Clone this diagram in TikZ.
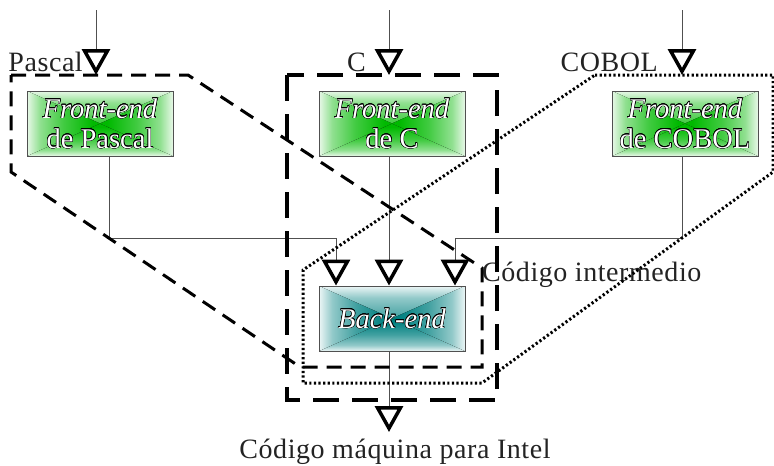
\documentclass[tikz,border=0pt]{standalone}
\usepackage{fontspec}
\setmainfont{Liberation Serif}
\newfontfamily\lblfont[LetterSpace=2]{Liberation Serif}
\usepackage{contour}
\contourlength{0.45pt}
\usetikzlibrary{arrows.meta}

\definecolor{feGreen}{RGB}{0,185,0}
\definecolor{feEdge}{RGB}{232,248,232}
\definecolor{beTeal}{RGB}{0,128,128}
\definecolor{beEdge}{RGB}{236,246,246}
\definecolor{wire}{RGB}{80,80,80}
\definecolor{ink}{RGB}{35,35,35}

% gradients from the centre (25bp) to the edge (75bp) of a stage
\pgfdeclareverticalshading{stageGreen}{100bp}{%
  color(0bp)=(feGreen); color(30bp)=(feGreen);
  color(50bp)=(feGreen!72!feEdge); color(66bp)=(feGreen!38!feEdge);
  color(75bp)=(feEdge); color(100bp)=(feEdge)}
\pgfdeclareverticalshading{stageTeal}{100bp}{%
  color(0bp)=(beTeal); color(30bp)=(beTeal);
  color(50bp)=(beTeal!72!beEdge); color(66bp)=(beTeal!38!beEdge);
  color(75bp)=(beEdge); color(100bp)=(beEdge)}

% white lettering with a thin dark outline, used inside the compiler stages
\newcommand{\boxtext}[1]{\contour{black}{\textcolor{white}{#1}}}

\tikzset{
  % four-sided gradient built from four triangles meeting at the centre
  pyramid/.style={path picture={
    \fill[shading=#1, shading angle=0]
      (path picture bounding box.north west) -- (path picture bounding box.north east)
      -- (path picture bounding box.center) -- cycle;
    \fill[shading=#1, shading angle=180]
      (path picture bounding box.south west) -- (path picture bounding box.south east)
      -- (path picture bounding box.center) -- cycle;
    \fill[shading=#1, shading angle=90]
      (path picture bounding box.north west) -- (path picture bounding box.south west)
      -- (path picture bounding box.center) -- cycle;
    \fill[shading=#1, shading angle=270]
      (path picture bounding box.north east) -- (path picture bounding box.south east)
      -- (path picture bounding box.center) -- cycle;
  }},
  stage/.style={draw=wire, line width=0.9pt, minimum width=146pt, minimum height=65pt,
    inner sep=0pt, align=center, font=\fontsize{28.5}{30}\selectfont},
  lbl/.style={font=\lblfont\fontsize{28}{30}\selectfont, text=ink, inner sep=0pt},
  flow/.style={draw=wire, line width=0.9pt,
    -{Triangle[open, color=black, length=26pt, width=28pt, line width=3.5pt]}},
  grpPascal/.style={line width=3pt, dash pattern=on 15pt off 9pt},
  grpC/.style={line width=3.5pt, dash pattern=on 26pt off 13pt},
  grpCobol/.style={line width=3pt, dash pattern=on 2.2pt off 2.4pt},
}

\begin{document}
\begin{tikzpicture}[x=1pt, y=-1pt]
\useasboundingbox (0,0) rectangle (774,466);

% compiler stages
\node[stage, pyramid=stageGreen] (feP) at (100,123.5)
  {\boxtext{\textit{Front-end}}\\\boxtext{de Pascal}};
\node[stage, pyramid=stageGreen] (feC) at (392,123.5)
  {\boxtext{\textit{Front-end}}\\\boxtext{de C}};
\node[stage, pyramid=stageGreen] (feO) at (685,123.5)
  {\boxtext{\textit{Front-end}}\\\boxtext{de COBOL}};
\node[stage, pyramid=stageTeal] (be) at (392,318.5)
  {\boxtext{\textit{Back-end}}};

% source inputs
\coordinate (srcP) at (96,10);  \coordinate (inP) at (96,75);
\coordinate (srcC) at (389,10); \coordinate (inC) at (389,75);
\coordinate (srcO) at (682,10); \coordinate (inO) at (682,75);
\draw[flow] (srcP) -- (inP);
\draw[flow] (srcC) -- (inC);
\draw[flow] (srcO) -- (inO);

% intermediate code into the back-end
\coordinate (jP) at (109,238);
\coordinate (jO) at (682,238);
\path (be.north) ++(-56,0) coordinate (bP);
\path (be.north) ++(-3,0)  coordinate (bC);
\path (be.north) ++(63,0)  coordinate (bO);
\draw[flow] (feP.south -| jP) -- (jP) -| (bP);
\draw[flow] (feC.south -| bC) -- (bC);
\draw[flow] (feO.south -| jO) -- (jO) -| (bO);

% machine code out
\coordinate (outTip) at (389,432);
\draw[flow] (be.south -| outTip) -- (outTip);

% labels
\node[lbl, anchor=base east] (lP) at (83,71) {Pascal};
\node[lbl, anchor=base east] (lC) at (366,71) {C};
\node[lbl, anchor=base east] (lO) at (658,71) {COBOL};
\node[lbl, anchor=base west] (lI) at (482,281) {Código intermedio};
\node[lbl, anchor=base] (lM) at (395,458) {Código máquina para Intel};

% one compiler per source language
\draw[grpPascal] (11,75) -- (188,75) -- (482,268) -- (482,367) -- (300,367) -- (11,172) -- cycle;
\draw[grpC] (287,75) rectangle (497,400);
\draw[grpCobol] (595,75) -- (773,75) -- (773,172) -- (482,383) -- (303,383) -- (303,270) -- cycle;
\end{tikzpicture}
\end{document}
